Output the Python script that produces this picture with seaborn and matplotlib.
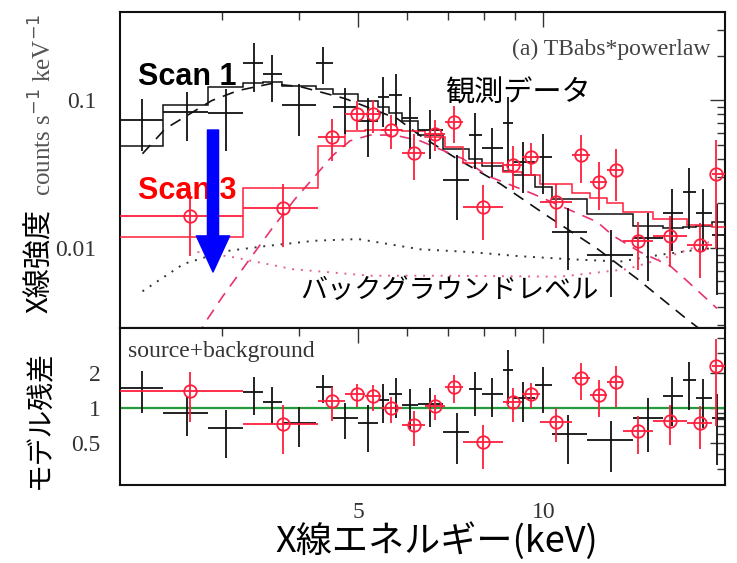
import matplotlib
matplotlib.use("Agg")
import matplotlib.pyplot as plt
import seaborn as sns
from matplotlib.ticker import FixedLocator, FixedFormatter, NullFormatter
from matplotlib.patches import FancyArrowPatch

# Scan 1 (black): bin centres / edges in keV, rate in counts s^-1 keV^-1
scan1_energy = [2.23, 2.63, 3.05, 3.38, 3.62, 4.00, 4.39, 4.76, 5.19, 5.49, 5.77, 6.07, 6.55,
                7.24, 7.75, 8.26, 8.77, 9.28, 10.0, 10.98, 12.9, 14.81, 16.2, 17.27, 18.2, 19.17]
scan1_edges = [2.05, 2.41, 2.85, 3.25, 3.50, 3.76, 4.27, 4.55, 5.00, 5.39, 5.61, 5.89, 6.26, 6.87,
               7.58, 7.95, 8.61, 8.93, 9.70, 10.34, 11.79, 14.0, 15.66, 16.89, 17.73, 18.82, 19.75]
scan1_rate = [0.073, 0.083, 0.082, 0.179, 0.150, 0.0925, 0.179, 0.090, 0.0725, 0.105, 0.108, 0.076, 0.063,
              0.029, 0.058, 0.0475, 0.070, 0.038, 0.041, 0.0129, 0.0090, 0.0116, 0.0173, 0.024, 0.0172, 0.0123]
scan1_rate_err = [0.028, 0.030, 0.037, 0.066, 0.053, 0.035, 0.050, 0.031, 0.031, 0.039, 0.041, 0.029, 0.023,
                  0.0136, 0.024, 0.0173, 0.035, 0.0143, 0.0177, 0.0058, 0.0043, 0.0056, 0.0078, 0.0106, 0.0078, 0.0075]
scan1_model = [0.049, 0.092, 0.122, 0.131, 0.133, 0.125, 0.118, 0.110, 0.098, 0.090, 0.082, 0.072, 0.058,
               0.047, 0.040, 0.036, 0.033, 0.031, 0.026, 0.0215, 0.017, 0.0141, 0.0136, 0.0138, 0.0141, 0.015]
scan1_ratio = [1.49, 0.905, 0.67, 1.37, 1.13, 0.74, 1.52, 0.82, 0.74, 1.17, 1.32, 1.06, 1.08,
               0.62, 1.46, 1.32, 2.13, 1.22, 1.58, 0.60, 0.53, 0.82, 1.27, 1.74, 1.22, 0.82]
scan1_ratio_err = [0.58, 0.33, 0.30, 0.50, 0.40, 0.28, 0.42, 0.28, 0.32, 0.43, 0.50, 0.40, 0.40,
                   0.29, 0.60, 0.48, 1.05, 0.46, 0.68, 0.27, 0.25, 0.40, 0.57, 0.77, 0.55, 0.50]

# Scan 3 (red)
scan3_energy = [2.66, 3.78, 4.54, 4.98, 5.29, 5.66, 6.17, 6.67, 7.16, 7.98, 8.93, 9.56, 10.49,
                11.52, 12.33, 13.14, 14.26, 16.07, 17.99, 19.1]
scan3_edges = [2.05, 3.25, 4.30, 4.76, 5.13, 5.45, 5.89, 6.43, 6.93, 7.41, 8.60, 9.24, 9.89, 11.14,
               11.91, 12.70, 13.49, 15.10, 17.13, 18.82, 19.75]
scan3_rate = [0.0165, 0.0187, 0.0565, 0.081, 0.080, 0.063, 0.044, 0.059, 0.0714, 0.019, 0.0366, 0.041, 0.0205,
              0.0427, 0.028, 0.0338, 0.0111, 0.012, 0.0105, 0.0318]
scan3_rate_err = [0.0076, 0.0085, 0.018, 0.018, 0.020, 0.016, 0.015, 0.014, 0.020, 0.0077, 0.012, 0.010, 0.0068,
                  0.015, 0.010, 0.013, 0.004, 0.0045, 0.0042, 0.022]
scan3_model = [0.0118, 0.0256, 0.0491, 0.0614, 0.063, 0.063, 0.062, 0.0567, 0.048, 0.0373, 0.0324, 0.031, 0.027,
               0.0236, 0.0217, 0.0202, 0.0176, 0.0156, 0.0142, 0.0138]
scan3_ratio = [1.40, 0.73, 1.15, 1.32, 1.27, 1.00, 0.71, 1.04, 1.52, 0.51, 1.13, 1.32, 0.76,
               1.81, 1.29, 1.67, 0.63, 0.77, 0.74, 2.30]
scan3_ratio_err = [0.64, 0.33, 0.37, 0.29, 0.32, 0.25, 0.24, 0.25, 0.42, 0.21, 0.37, 0.32, 0.25,
                   0.64, 0.46, 0.64, 0.23, 0.29, 0.30, 1.60]

# model components: source (powerlaw) and background
src1_energy = [2.23, 2.43, 2.89, 3.19, 3.60, 4.02, 4.76, 5.79, 6.31, 7.24, 8.51, 10.15, 12.24, 14.21, 17.13, 19.75]
src1_flux = [0.0434, 0.0641, 0.0992, 0.116, 0.129, 0.1235, 0.1024, 0.0749, 0.0575, 0.0401, 0.0272, 0.0165,
             0.0099, 0.0062, 0.0033, 0.0021]
src3_energy = [2.65, 2.80, 3.01, 3.31, 3.62, 3.95, 4.26, 4.54, 4.85, 5.23, 5.73, 6.31, 7.41, 8.11, 8.93, 9.63,
               12.24, 12.99, 14.37, 16.07, 17.13, 18.47, 19.17]
src3_flux = [0.0019, 0.0030, 0.0047, 0.0081, 0.0135, 0.0215, 0.0308, 0.042, 0.053, 0.058, 0.058, 0.053, 0.040,
             0.0308, 0.0263, 0.0232, 0.0150, 0.0121, 0.0094, 0.0076, 0.0060, 0.0045, 0.0039]
bkg1_energy = [2.23, 2.60, 3.03, 3.53, 4.25, 5.0, 6.31, 7.59, 9.17, 11.06, 13.34, 15.49, 17.99, 19.4]
bkg1_flux = [0.0051, 0.0078, 0.0095, 0.0103, 0.0112, 0.0115, 0.0098, 0.0094, 0.0088, 0.0084, 0.0081,
             0.0090, 0.0098, 0.0101]
bkg3_energy = [2.74, 3.12, 3.91, 5.23, 7.06, 10.65, 13.69, 16.07, 18.89]
bkg3_flux = [0.0094, 0.0087, 0.0072, 0.0065, 0.0065, 0.0064, 0.0072, 0.0088, 0.0112]

BLACK = "#111111"
RED = "#ff1f3d"
RED_DASH = "#e8336e"
RED_DOT = "#e86090"
SERIF = ["Liberation Serif", "DejaVu Serif"]
JP = ["Noto Sans CJK JP", "DejaVu Sans"]

sns.set_style("white")
plt.rcParams["font.family"] = ["Liberation Sans", "Noto Sans CJK JP", "DejaVu Sans"]

fig = plt.figure(figsize=(7.37, 5.63), dpi=100)
W, H = 737.0, 563.0
ax = fig.add_axes([120 / W, 1 - 328 / H, 605 / W, 316 / H])
axr = fig.add_axes([120 / W, 1 - 485 / H, 605 / W, 157 / H], sharex=ax)


def xerr_of(centres, edges):
    lo = [c - e for c, e in zip(centres, edges[:-1])]
    hi = [e - c for c, e in zip(centres, edges[1:])]
    return [lo, hi]


for a in (ax, axr):
    a.set_xscale("log")
    a.set_yscale("log")

# --- top panel: spectra ---
ax.stairs(scan1_model, scan1_edges, baseline=None, color=BLACK, lw=1.1, zorder=3)
ax.stairs(scan3_model, scan3_edges, baseline=None, color=RED, lw=1.1, zorder=4)
sns.lineplot(x=src1_energy, y=src1_flux, ax=ax, color=BLACK, lw=1.2, linestyle=(0, (7, 5)),
             estimator=None, sort=False, zorder=2)
sns.lineplot(x=src3_energy, y=src3_flux, ax=ax, color=RED_DASH, lw=1.2, linestyle=(0, (7, 5)),
             estimator=None, sort=False, zorder=2)
sns.lineplot(x=bkg1_energy, y=bkg1_flux, ax=ax, color="#333333", lw=1.4, linestyle=(0, (1, 3.5)),
             estimator=None, sort=False, zorder=2)
sns.lineplot(x=bkg3_energy, y=bkg3_flux, ax=ax, color=RED_DOT, lw=1.4, linestyle=(0, (1, 3.5)),
             estimator=None, sort=False, zorder=2)
ax.errorbar(scan1_energy, scan1_rate, xerr=xerr_of(scan1_energy, scan1_edges), yerr=scan1_rate_err,
            fmt="none", ecolor=BLACK, elinewidth=1.3, capsize=0, zorder=5)
ax.errorbar(scan3_energy, scan3_rate, xerr=xerr_of(scan3_energy, scan3_edges), yerr=scan3_rate_err,
            fmt="o", ms=9, mfc="none", mec=RED, mew=1.3, ecolor=RED, elinewidth=1.3, capsize=0, zorder=6)

# --- bottom panel: ratio ---
axr.axhline(1.0, color="#239a3b", lw=1.6, zorder=2)
axr.errorbar(scan1_energy, scan1_ratio, xerr=xerr_of(scan1_energy, scan1_edges), yerr=scan1_ratio_err,
             fmt="none", ecolor=BLACK, elinewidth=1.3, capsize=0, zorder=5)
axr.errorbar(scan3_energy, scan3_ratio, xerr=xerr_of(scan3_energy, scan3_edges), yerr=scan3_ratio_err,
             fmt="o", ms=9, mfc="none", mec=RED, mew=1.3, ecolor=RED, elinewidth=1.3, capsize=0, zorder=6)

# axes, ticks
ax.set_xlim(2.05, 19.75)
ax.set_ylim(0.00288, 0.394)
axr.set_ylim(0.217, 4.9)

for a in (ax, axr):
    a.xaxis.set_major_locator(FixedLocator([5, 10]))
    a.xaxis.set_minor_locator(FixedLocator([3, 4, 6, 7, 8, 9]))
    a.xaxis.set_minor_formatter(NullFormatter())
    a.tick_params(which="both", direction="in", top=True, right=True, colors="#333333",
                  labelsize=17, width=1.0)
    a.tick_params(which="major", length=11)
    a.tick_params(which="minor", length=6)
    for s in a.spines.values():
        s.set_color(BLACK)
        s.set_linewidth(1.5)
    a.set_xlabel("")
    a.set_ylabel("")

ax.yaxis.set_major_locator(FixedLocator([0.01, 0.1]))
ax.yaxis.set_major_formatter(FixedFormatter(["0.01", "0.1"]))
ax.yaxis.set_minor_locator(FixedLocator([0.003, 0.004, 0.005, 0.006, 0.007, 0.008, 0.009,
                                         0.02, 0.03, 0.04, 0.05, 0.06, 0.07, 0.08, 0.09, 0.2, 0.3]))
ax.yaxis.set_minor_formatter(NullFormatter())
ax.tick_params(axis="x", labelbottom=False)

axr.yaxis.set_major_locator(FixedLocator([0.5, 1, 2]))
axr.yaxis.set_major_formatter(FixedFormatter(["0.5", "1", "2"]))
axr.yaxis.set_minor_locator(FixedLocator([0.3, 0.4, 0.6, 0.7, 0.8, 0.9, 3, 4]))
axr.yaxis.set_minor_formatter(NullFormatter())
axr.xaxis.set_major_formatter(FixedFormatter(["5", "10"]))
axr.tick_params(axis="x", pad=12)
ax.tick_params(axis="y", pad=17)
axr.tick_params(axis="y", pad=14)
for a in (ax, axr):
    for lab in a.get_xticklabels() + a.get_yticklabels():
        lab.set_fontfamily(SERIF)

# --- texts ---
def fx(px):
    return px / W


def fy(py):
    return 1 - py / H


fig.text(fx(138), fy(85), "Scan 1", fontsize=22, fontweight="bold", color="black",
         family=["Liberation Sans", "DejaVu Sans"], va="baseline", zorder=3)
fig.text(fx(138), fy(199), "Scan 3", fontsize=22, fontweight="bold", color="#ff0000",
         family=["Liberation Sans", "DejaVu Sans"], va="baseline", zorder=3)
fig.text(fx(445), fy(94), "観測データ", fontsize=21, color="black", family=JP, va="center")
fig.text(fx(300), fy(290), "バックグラウンドレベル", fontsize=19.5, color="black", family=JP, va="center")
fig.text(fx(710), fy(55), "(a) TBabs*powerlaw", fontsize=17, color="#444444", family=SERIF,
         ha="right", va="baseline")
fig.text(fx(128), fy(357), "source+background", fontsize=17, color="#333333", family=SERIF,
         ha="left", va="baseline")
fig.text(fx(437), fy(541), "X線エネルギー(keV)", fontsize=26, color="black", family=JP,
         ha="center", va="center")
fig.text(fx(40), fy(261), "X線強度", fontsize=21, color="black", family=JP,
         rotation=90, ha="center", va="center")
fig.text(fx(43), fy(105), "counts s$^{-1}$ keV$^{-1}$", fontsize=18, color="#555555", family=SERIF,
         rotation=90, ha="center", va="center")
fig.text(fx(40), fy(420), "モデル残差", fontsize=20, color="black", family=JP,
         rotation=90, ha="center", va="center")

arrow = FancyArrowPatch((fx(213), fy(130)), (fx(213), fy(272)), transform=fig.transFigure,
                        arrowstyle="simple,head_length=0.65,head_width=0.6,tail_width=0.2",
                        mutation_scale=40, color="#0000ff", shrinkA=0, shrinkB=0, zorder=10)
fig.add_artist(arrow)

fig.savefig("out.png", dpi=100)
